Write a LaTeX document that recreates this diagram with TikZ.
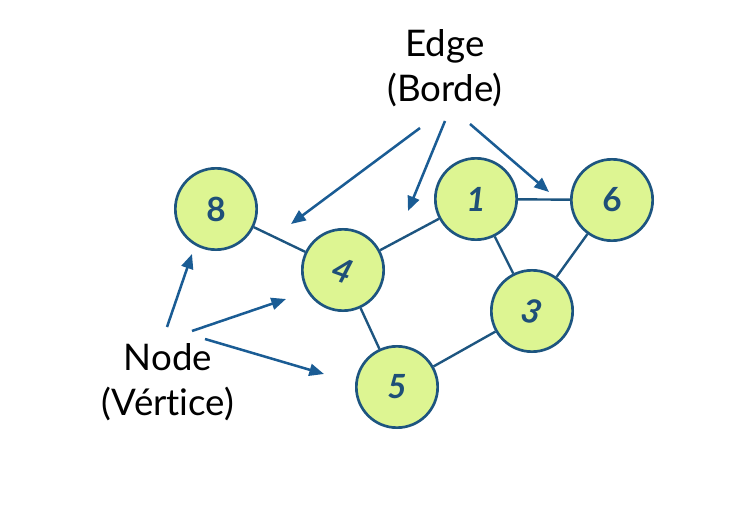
\documentclass[tikz,border=0pt]{standalone}
\usepackage{fontspec}
\setmainfont[Ligatures=NoCommon]{Lato}
\usetikzlibrary{arrows.meta}
\definecolor{vfill}{HTML}{DDF592}
\definecolor{vline}{HTML}{1D5580}
\definecolor{pointer}{HTML}{1A5C94}
\definecolor{digit}{HTML}{1E4F78}

\begin{document}
\begin{tikzpicture}[
  x=0.75pt, y=-0.75pt,
  vtx/.style={circle, draw=vline, fill=vfill, line width=2pt, minimum size=61pt,
              inner sep=0pt, font=\fontsize{25}{25}\selectfont\bfseries, text=digit},
  link/.style={draw=vline, line width=1.8pt},
  lbl/.style={align=center, font=\fontsize{27.5}{34}\selectfont},
  arr/.style={-{Triangle[length=11pt, width=9pt]}, line width=1.9pt, pointer},
]
  \useasboundingbox (0,0) rectangle (740,528);

  % vertices
  \node[vtx] (n8) at (216, 209) {8};
  \node[vtx] (n4) at (343, 270) {\rotatebox{-20}{\itshape 4}};
  \node[vtx] (n1) at (476, 199) {\itshape 1};
  \node[vtx] (n6) at (612, 200) {6};
  \node[vtx] (n3) at (532, 311) {\rotatebox{-15}{\itshape 3}};
  \node[vtx] (n5) at (397, 387) {\itshape 5};

  % edges
  \draw[link] (n8) -- (n4);
  \draw[link] (n4) -- (n1);
  \draw[link] (n1) -- (n6);
  \draw[link] (n1) -- (n3);
  \draw[link] (n6) -- (n3);
  \draw[link] (n4) -- (n5);
  \draw[link] (n5) -- (n3);

  % labels
  \node[lbl] (edge) at (445, 68) {Edge\\(Borde)};
  \node[lbl] (vert) at (168, 382) {Node\\(Vértice)};

  % pointer ends
  \coordinate (e1s) at (420, 128);
  \coordinate (e2s) at (445, 121);
  \coordinate (e3s) at (470, 124);
  \coordinate (e1t) at (291, 224);
  \coordinate (e2t) at (408, 211);
  \coordinate (e3t) at (549, 192);
  \coordinate (v1s) at (167, 327);
  \coordinate (v2s) at (192, 331);
  \coordinate (v3s) at (205, 339);
  \coordinate (v1t) at (192, 254);
  \coordinate (v2t) at (286, 299);
  \coordinate (v3t) at (324, 374);

  \draw[arr] (e1s) -- (e1t);
  \draw[arr] (e2s) -- (e2t);
  \draw[arr] (e3s) -- (e3t);
  \draw[arr] (v1s) -- (v1t);
  \draw[arr] (v2s) -- (v2t);
  \draw[arr] (v3s) -- (v3t);
\end{tikzpicture}
\end{document}
